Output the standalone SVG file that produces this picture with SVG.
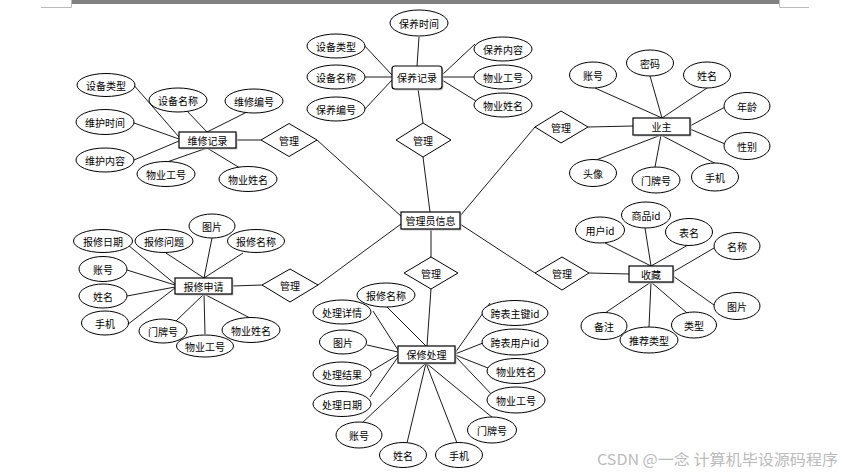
<svg xmlns="http://www.w3.org/2000/svg" width="854" height="474" viewBox="0 0 854 474">
<style>
.e{fill:#fff;stroke:#000;stroke-width:1}
.r{fill:#fff;stroke:#000;stroke-width:1.2}
.s{fill:#c8c8c8}
.d{fill:#fff;stroke:#000;stroke-width:1}
.c line{stroke:#000;stroke-width:0.9}
text{font-family:"Noto Sans CJK SC","Noto Sans",sans-serif;font-size:10px;fill:#000;text-anchor:middle;dominant-baseline:central}
.w{font-size:15px;fill:#bbb;text-anchor:start;dominant-baseline:auto}
</style>
<rect x="0" y="0" width="854" height="474" fill="#fff"/>
<rect x="71" y="0" width="708" height="4" fill="#808080"/>
<path d="M41 7.5H71.5V0M779.5 0V7.5H809" fill="none" stroke="#bbb" stroke-width="1"/>

<g class="c" id="connectors">
<line x1="423" y1="157" x2="430" y2="212"/>
<line x1="423" y1="123" x2="418" y2="89"/>
<line x1="236" y1="140" x2="261" y2="140"/>
<line x1="317" y1="140" x2="402" y2="217"/>
<line x1="588" y1="127" x2="633" y2="126"/>
<line x1="535" y1="127" x2="460" y2="216"/>
<line x1="232" y1="286" x2="262" y2="285"/>
<line x1="318" y1="285" x2="401" y2="224"/>
<line x1="589" y1="273" x2="629" y2="274"/>
<line x1="535" y1="273" x2="460" y2="224"/>
<line x1="431" y1="229" x2="431" y2="257"/>
<line x1="431" y1="289" x2="427" y2="346"/>
<line x1="419" y1="37" x2="417" y2="66"/>
<line x1="363" y1="44" x2="392" y2="75"/>
<line x1="365" y1="77" x2="392" y2="77"/>
<line x1="363" y1="111" x2="392" y2="80"/>
<line x1="475" y1="44" x2="442" y2="75"/>
<line x1="474" y1="77" x2="442" y2="77"/>
<line x1="476" y1="101" x2="442" y2="80"/>
<line x1="132" y1="83" x2="179" y2="137"/>
<line x1="187" y1="111" x2="207" y2="132"/>
<line x1="247" y1="112" x2="207" y2="132"/>
<line x1="134" y1="123" x2="179" y2="139"/>
<line x1="134" y1="160" x2="179" y2="141"/>
<line x1="167" y1="162" x2="207" y2="148"/>
<line x1="240" y1="168" x2="207" y2="148"/>
<line x1="595" y1="88" x2="662" y2="118"/>
<line x1="650" y1="76" x2="662" y2="118"/>
<line x1="707" y1="88" x2="662" y2="118"/>
<line x1="725" y1="107" x2="690" y2="126"/>
<line x1="725" y1="144" x2="690" y2="129"/>
<line x1="596" y1="160" x2="661" y2="135"/>
<line x1="655" y1="167" x2="661" y2="135"/>
<line x1="720" y1="166" x2="661" y2="135"/>
<line x1="212" y1="238" x2="204" y2="278"/>
<line x1="166" y1="253" x2="204" y2="278"/>
<line x1="243" y1="253" x2="204" y2="278"/>
<line x1="128" y1="245" x2="175" y2="284"/>
<line x1="127" y1="270" x2="175" y2="285"/>
<line x1="127" y1="296" x2="175" y2="287"/>
<line x1="127" y1="325" x2="175" y2="288"/>
<line x1="176" y1="321" x2="204" y2="294"/>
<line x1="205" y1="334" x2="204" y2="294"/>
<line x1="250" y1="318" x2="204" y2="294"/>
<line x1="605" y1="243" x2="651" y2="266"/>
<line x1="645" y1="228" x2="651" y2="266"/>
<line x1="688" y1="245" x2="651" y2="266"/>
<line x1="714" y1="248" x2="673" y2="272"/>
<line x1="714" y1="305" x2="673" y2="276"/>
<line x1="605" y1="313" x2="651" y2="282"/>
<line x1="649" y1="327" x2="651" y2="282"/>
<line x1="687" y1="313" x2="651" y2="282"/>
<line x1="387" y1="307" x2="426" y2="346"/>
<line x1="373" y1="311" x2="398" y2="350"/>
<line x1="367" y1="345" x2="398" y2="352"/>
<line x1="368" y1="373" x2="398" y2="355"/>
<line x1="370" y1="397" x2="398" y2="357"/>
<line x1="362" y1="423" x2="426" y2="363"/>
<line x1="407" y1="443" x2="426" y2="363"/>
<line x1="457" y1="443" x2="426" y2="363"/>
<line x1="493" y1="418" x2="426" y2="363"/>
<line x1="490" y1="303" x2="455" y2="353"/>
<line x1="483" y1="343" x2="455" y2="354"/>
<line x1="488" y1="368" x2="455" y2="355"/>
<line x1="494" y1="397" x2="455" y2="356"/>
</g>

<g id="admin">
<rect class="s" x="402.5" y="213.5" width="59" height="17"/>
<rect class="r" x="401" y="212" width="59" height="17"/>
<text x="430.5" y="220.5">管理员信息</text>
</g>

<g id="rel-baoyang"><polygon class="d" points="396,140 423,123 451,140 423,157"/><text x="423" y="140">管理</text></g>
<g id="rel-weixiu"><polygon class="d" points="261,140 289,123.5 317,140 289,156.5"/><text x="289" y="140">管理</text></g>
<g id="rel-yezhu"><polygon class="d" points="535,127 561,111 588,127 561,143"/><text x="561" y="127">管理</text></g>
<g id="rel-baoxiu"><polygon class="d" points="262,285 290,269 318,285 290,302"/><text x="290" y="285">管理</text></g>
<g id="rel-shoucang"><polygon class="d" points="535,273 562,257 589,273 562,290"/><text x="562" y="273">管理</text></g>
<g id="rel-chuli"><polygon class="d" points="404,273 431,257 458,273 431,289"/><text x="431" y="273">管理</text></g>

<g id="baoyang">
<rect class="s" x="393.5" y="67.5" width="50" height="23" rx="3"/>
<rect class="r" x="392" y="66" width="50" height="23" rx="3"/>
<text x="417" y="77.5">保养记录</text>
</g>
<g id="weixiu">
<rect class="s" x="180.5" y="133.5" width="57" height="16"/>
<rect class="r" x="179" y="132" width="57" height="16"/>
<text x="207.5" y="140">维修记录</text>
</g>
<g id="yezhu">
<rect class="s" x="634.5" y="119.5" width="57" height="17"/>
<rect class="r" x="633" y="118" width="57" height="17"/>
<text x="661.5" y="126.5">业主</text>
</g>
<g id="baoxiu">
<rect class="s" x="176.5" y="279.5" width="57" height="16"/>
<rect class="r" x="175" y="278" width="57" height="16"/>
<text x="203.5" y="286">报修申请</text>
</g>
<g id="shoucang">
<rect class="s" x="630.5" y="267.5" width="44" height="16"/>
<rect class="r" x="629" y="266" width="44" height="16"/>
<text x="651" y="274">收藏</text>
</g>
<g id="chuli">
<rect class="s" x="399.5" y="347.5" width="57" height="17"/>
<rect class="r" x="398" y="346" width="57" height="17"/>
<text x="426.5" y="354.5">保修处理</text>
</g>

<g id="a-by-1"><ellipse class="e" cx="419" cy="23" rx="29" ry="13"/><text x="419" y="23">保养时间</text></g>
<g id="a-by-2"><ellipse class="e" cx="336" cy="46" rx="29" ry="12"/><text x="336" y="46">设备类型</text></g>
<g id="a-by-3"><ellipse class="e" cx="336" cy="77" rx="29" ry="12"/><text x="336" y="77">设备名称</text></g>
<g id="a-by-4"><ellipse class="e" cx="336" cy="109" rx="29" ry="12"/><text x="336" y="109">保养编号</text></g>
<g id="a-by-5"><ellipse class="e" cx="503" cy="49" rx="29" ry="12"/><text x="503" y="49">保养内容</text></g>
<g id="a-by-6"><ellipse class="e" cx="503" cy="77" rx="29" ry="12"/><text x="503" y="77">物业工号</text></g>
<g id="a-by-7"><ellipse class="e" cx="503" cy="105" rx="29" ry="12"/><text x="503" y="105">物业姓名</text></g>

<g id="a-wx-1"><ellipse class="e" cx="106" cy="85" rx="29" ry="11.5"/><text x="106" y="85">设备类型</text></g>
<g id="a-wx-2"><ellipse class="e" cx="178" cy="100" rx="29" ry="12"/><text x="178" y="100">设备名称</text></g>
<g id="a-wx-3"><ellipse class="e" cx="254" cy="101" rx="29" ry="12"/><text x="254" y="101">维修编号</text></g>
<g id="a-wx-4"><ellipse class="e" cx="105" cy="122" rx="29" ry="12.5"/><text x="105" y="122">维护时间</text></g>
<g id="a-wx-5"><ellipse class="e" cx="105" cy="160" rx="29" ry="12"/><text x="105" y="160">维护内容</text></g>
<g id="a-wx-6"><ellipse class="e" cx="166" cy="174" rx="29" ry="12.5"/><text x="166" y="174">物业工号</text></g>
<g id="a-wx-7"><ellipse class="e" cx="248" cy="179" rx="29" ry="12.5"/><text x="248" y="179">物业姓名</text></g>

<g id="a-yz-1"><ellipse class="e" cx="593" cy="75" rx="23.5" ry="13"/><text x="593" y="75">账号</text></g>
<g id="a-yz-2"><ellipse class="e" cx="650" cy="63" rx="23.5" ry="13"/><text x="650" y="63">密码</text></g>
<g id="a-yz-3"><ellipse class="e" cx="707" cy="75" rx="23.5" ry="13"/><text x="707" y="75">姓名</text></g>
<g id="a-yz-4"><ellipse class="e" cx="747" cy="106" rx="23" ry="13.5"/><text x="747" y="106">年龄</text></g>
<g id="a-yz-5"><ellipse class="e" cx="747" cy="146" rx="23" ry="13.5"/><text x="747" y="146">性别</text></g>
<g id="a-yz-6"><ellipse class="e" cx="593" cy="173" rx="23.5" ry="13.5"/><text x="593" y="173">头像</text></g>
<g id="a-yz-7"><ellipse class="e" cx="656" cy="180" rx="24" ry="13"/><text x="656" y="180">门牌号</text></g>
<g id="a-yz-8"><ellipse class="e" cx="715" cy="177" rx="23.5" ry="14"/><text x="715" y="177">手机</text></g>

<g id="a-bx-1"><ellipse class="e" cx="212" cy="226" rx="23" ry="12"/><text x="212" y="226">图片</text></g>
<g id="a-bx-2"><ellipse class="e" cx="103" cy="241" rx="29.5" ry="11.5"/><text x="103" y="241">报修日期</text></g>
<g id="a-bx-3"><ellipse class="e" cx="164" cy="241" rx="29" ry="11.5"/><text x="164" y="241">报修问题</text></g>
<g id="a-bx-4"><ellipse class="e" cx="256" cy="241" rx="28.5" ry="11.5"/><text x="256" y="241">报修名称</text></g>
<g id="a-bx-5"><ellipse class="e" cx="103" cy="269" rx="24" ry="12.5"/><text x="103" y="269">账号</text></g>
<g id="a-bx-6"><ellipse class="e" cx="103" cy="296" rx="24" ry="12"/><text x="103" y="296">姓名</text></g>
<g id="a-bx-7"><ellipse class="e" cx="105" cy="323" rx="23.5" ry="12"/><text x="105" y="323">手机</text></g>
<g id="a-bx-8"><ellipse class="e" cx="163" cy="331" rx="24" ry="12"/><text x="163" y="331">门牌号</text></g>
<g id="a-bx-10"><ellipse class="e" cx="251" cy="330" rx="29" ry="12.5"/><text x="251" y="330">物业姓名</text></g>
<g id="a-bx-9"><ellipse class="e" cx="205" cy="346" rx="28.5" ry="11"/><text x="205" y="346">物业工号</text></g>

<g id="a-sc-1"><ellipse class="e" cx="600" cy="230" rx="24.5" ry="13"/><text x="600" y="230">用户id</text></g>
<g id="a-sc-2"><ellipse class="e" cx="646" cy="215" rx="24.5" ry="13"/><text x="646" y="215">商品id</text></g>
<g id="a-sc-3"><ellipse class="e" cx="689" cy="232" rx="23.5" ry="13.5"/><text x="689" y="232">表名</text></g>
<g id="a-sc-4"><ellipse class="e" cx="737" cy="246" rx="23" ry="13.5"/><text x="737" y="246">名称</text></g>
<g id="a-sc-5"><ellipse class="e" cx="737" cy="306" rx="23" ry="13.5"/><text x="737" y="306">图片</text></g>
<g id="a-sc-6"><ellipse class="e" cx="604" cy="326" rx="23" ry="13.5"/><text x="604" y="326">备注</text></g>
<g id="a-sc-8"><ellipse class="e" cx="694" cy="325" rx="22.5" ry="13"/><text x="694" y="325">类型</text></g>
<g id="a-sc-7"><ellipse class="e" cx="649" cy="340" rx="29" ry="13"/><text x="649" y="340">推荐类型</text></g>

<g id="a-cl-1"><ellipse class="e" cx="386" cy="295" rx="29" ry="12"/><text x="386" y="295">报修名称</text></g>
<g id="a-cl-2"><ellipse class="e" cx="342" cy="312" rx="29" ry="12"/><text x="342" y="312">处理详情</text></g>
<g id="a-cl-3"><ellipse class="e" cx="343" cy="342" rx="23.5" ry="12"/><text x="343" y="342">图片</text></g>
<g id="a-cl-4"><ellipse class="e" cx="342" cy="374" rx="29" ry="12"/><text x="342" y="374">处理结果</text></g>
<g id="a-cl-5"><ellipse class="e" cx="342" cy="404" rx="29" ry="12.5"/><text x="342" y="404">处理日期</text></g>
<g id="a-cl-6"><ellipse class="e" cx="359" cy="435" rx="23" ry="13"/><text x="359" y="435">账号</text></g>
<g id="a-cl-7"><ellipse class="e" cx="403" cy="455" rx="23.5" ry="12.5"/><text x="403" y="455">姓名</text></g>
<g id="a-cl-8"><ellipse class="e" cx="459" cy="455" rx="23.5" ry="12.5"/><text x="459" y="455">手机</text></g>
<g id="a-cl-9"><ellipse class="e" cx="492" cy="430" rx="24.5" ry="13"/><text x="492" y="430">门牌号</text></g>
<g id="a-cl-10"><ellipse class="e" cx="515" cy="313" rx="33" ry="12.5"/><text x="515" y="313">跨表主键id</text></g>
<g id="a-cl-11"><ellipse class="e" cx="515" cy="342" rx="33" ry="13"/><text x="515" y="342">跨表用户id</text></g>
<g id="a-cl-12"><ellipse class="e" cx="516" cy="371" rx="29" ry="12.5"/><text x="516" y="371">物业姓名</text></g>
<g id="a-cl-13"><ellipse class="e" cx="516" cy="400" rx="29" ry="13"/><text x="516" y="400">物业工号</text></g>

<text class="w" x="597" y="465" textLength="241" lengthAdjust="spacingAndGlyphs">CSDN @一念 计算机毕设源码程序</text>
</svg>
